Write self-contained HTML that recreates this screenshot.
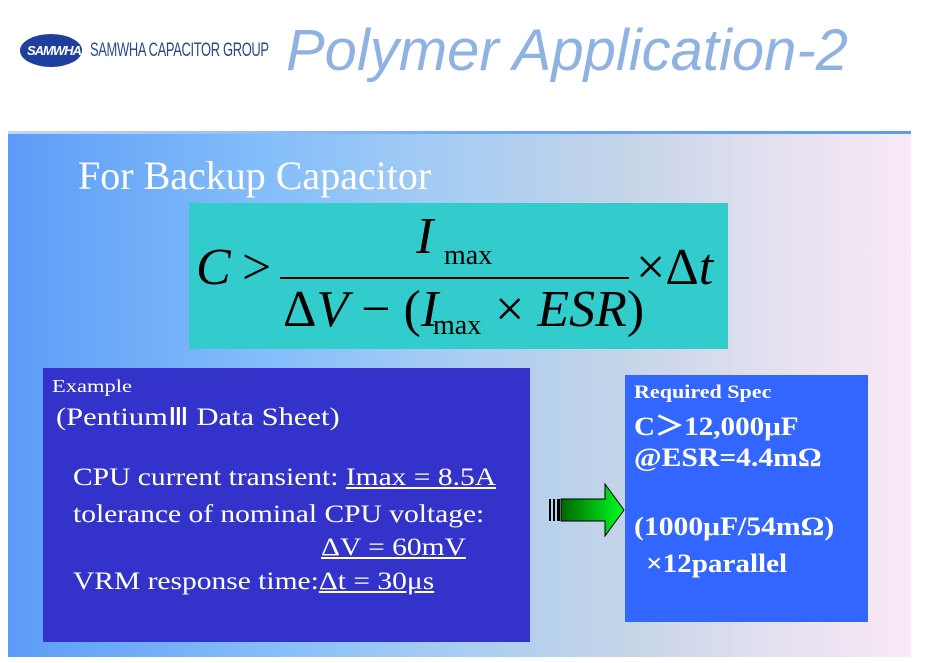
<!DOCTYPE html>
<html><head><meta charset="utf-8">
<style>
body{margin:0;width:926px;height:663px;background:#fff;position:relative;overflow:hidden;font-family:"Liberation Serif",serif;}
.a{position:absolute;white-space:nowrap;transform-origin:left top;}
</style></head><body>
<!-- logo -->
<div class="a" style="left:20px;top:34px;width:62px;height:33px;border-radius:50%;background:#1f3f9e;"></div>
<div class="a" style="left:27px;top:43px;font:italic bold 13px 'Liberation Sans',sans-serif;color:#fff;letter-spacing:-1px;">SAMWHA</div>
<div class="a" style="left:90px;top:40px;font:19px 'Liberation Sans',sans-serif;color:#2a4a8e;transform:scaleX(0.68);letter-spacing:-0.5px;">SAMWHA CAPACITOR GROUP</div>
<div class="a" style="left:286px;top:17px;font:italic 58px 'Liberation Sans',sans-serif;color:#8fb2e3;">Polymer Application-2</div>
<!-- panel -->
<div class="a" style="left:8px;top:132px;width:903px;height:525px;background:linear-gradient(90deg,#5c9cf7 0%,#86bffa 30%,#a9cdf3 50%,#c4d4e8 68%,#e4e0f0 85%,#fae9f6 100%);"></div>
<div class="a" style="left:8px;top:131px;width:903px;height:3px;background:linear-gradient(90deg,#c8d6f0,#70aaf8 50%,#5b9cf6);"></div>
<div class="a" style="left:78px;top:152px;font-size:40px;color:#fff;">For Backup Capacitor</div>
<!-- formula -->
<div class="a" style="left:189px;top:203px;width:539px;height:146px;background:#33cccc;"></div>
<div class="a" style="left:196px;top:238px;font:italic 52px 'Liberation Serif',serif;color:#000;">C</div>
<div class="a" style="left:242px;top:238px;font:52px 'Liberation Serif',serif;color:#000;">&gt;</div>
<div class="a" style="left:280px;top:277px;width:349px;height:2px;background:#000;"></div>
<div class="a" style="left:416px;top:207px;font:italic 52px 'Liberation Serif',serif;">I</div>
<div class="a" style="left:444px;top:240px;font:28px 'Liberation Serif',serif;">max</div>
<div class="a" style="left:636px;top:238px;font:52px 'Liberation Serif',serif;">×Δ<i>t</i></div>
<div class="a" style="left:283px;top:280px;font:52px 'Liberation Serif',serif;">Δ<i>V</i> − (<i>I</i></div>
<div class="a" style="left:433px;top:310px;font:28px 'Liberation Serif',serif;">max</div>
<div class="a" style="left:495px;top:280px;font:52px 'Liberation Serif',serif;">× <i>ESR</i>)</div>
<!-- example -->
<div class="a" style="left:43px;top:368px;width:487px;height:274px;background:#3333cc;"></div>
<div class="a" style="left:52px;top:376px;font-size:18px;color:#fff;transform:scaleX(1.25);">Example</div>
<div class="a" style="left:56px;top:402px;font-size:25px;color:#fff;transform:scaleX(1.22);">(PentiumⅢ Data Sheet)</div>
<div class="a" style="left:73px;top:464px;font-size:25px;color:#fff;transform:scaleX(1.18);">CPU current transient: <u>Imax = 8.5A</u></div>
<div class="a" style="left:73px;top:501px;font-size:25px;color:#fff;transform:scaleX(1.18);">tolerance of nominal CPU voltage:</div>
<div class="a" style="left:321px;top:534px;font-size:25px;color:#fff;transform:scaleX(1.18);"><u>ΔV = 60mV</u></div>
<div class="a" style="left:73px;top:568px;font-size:25px;color:#fff;transform:scaleX(1.18);">VRM response time:<u>Δt = 30μs</u></div>
<!-- arrow -->
<svg class="a" style="left:547px;top:482px;" width="80" height="56">
<defs><linearGradient id="g" x1="0" x2="1"><stop offset="0" stop-color="#006600"/><stop offset="1" stop-color="#00ff22"/></linearGradient></defs>
<rect x="2" y="17" width="2" height="22" fill="#000"/><rect x="6" y="17" width="2" height="22" fill="#000"/><rect x="10" y="17" width="3" height="22" fill="#000"/>
<path d="M14 17 H58 V2 L77 28 L58 54 V39 H14 Z" fill="url(#g)" stroke="#000" stroke-width="1"/>
</svg>
<!-- spec -->
<div class="a" style="left:625px;top:375px;width:243px;height:247px;background:#3366ff;"></div>
<div class="a" style="left:634px;top:382px;font:bold 19px 'Liberation Serif',serif;color:#fff;transform:scaleX(1.16);">Required Spec</div>
<div class="a" style="left:634px;top:406px;font:bold 26px 'Liberation Serif',serif;color:#fff;transform:scaleX(1.12);">C＞12,000μF</div>
<div class="a" style="left:634px;top:443px;font:bold 26px 'Liberation Serif',serif;color:#fff;transform:scaleX(1.14);">@ESR=4.4mΩ</div>
<div class="a" style="left:634px;top:512px;font:bold 26px 'Liberation Serif',serif;color:#fff;transform:scaleX(1.14);">(1000μF/54mΩ)</div>
<div class="a" style="left:646px;top:549px;font:bold 26px 'Liberation Serif',serif;color:#fff;transform:scaleX(1.12);">×12parallel</div>
</body></html>
